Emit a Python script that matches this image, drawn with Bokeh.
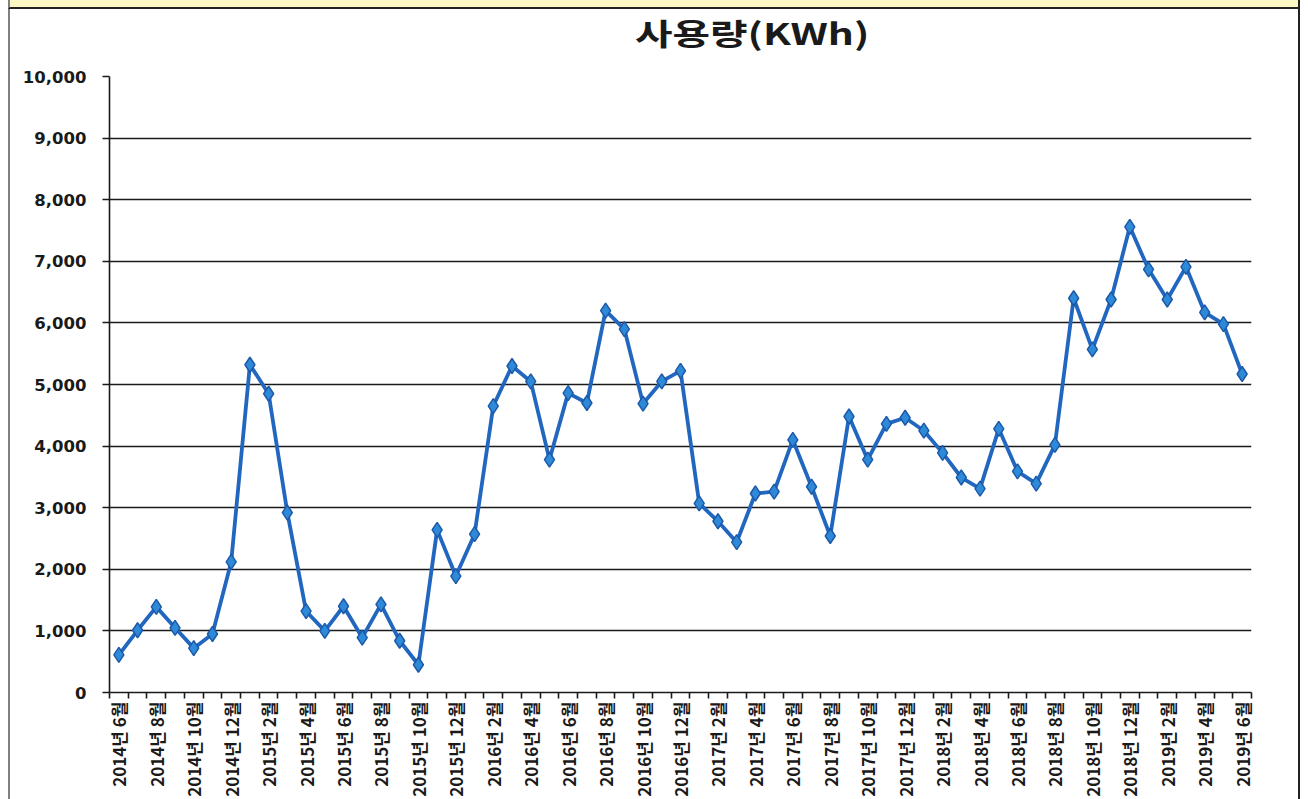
import math
from bokeh.plotting import figure
from bokeh.layouts import column
from bokeh.models import Range1d, FixedTicker, NumeralTickFormatter, ColumnDataSource, Div
from bokeh.embed import file_html
from bokeh.resources import INLINE

title_text = "사용량(KWh)"

tick_labels = [
    "2014년 6월", "2014년 8월", "2014년 10월", "2014년 12월",
    "2015년 2월", "2015년 4월", "2015년 6월", "2015년 8월", "2015년 10월", "2015년 12월",
    "2016년 2월", "2016년 4월", "2016년 6월", "2016년 8월", "2016년 10월", "2016년 12월",
    "2017년 2월", "2017년 4월", "2017년 6월", "2017년 8월", "2017년 10월", "2017년 12월",
    "2018년 2월", "2018년 4월", "2018년 6월", "2018년 8월", "2018년 10월", "2018년 12월",
    "2019년 2월", "2019년 4월", "2019년 6월",
]

# monthly usage (KWh), 2014-06 .. 2019-06
usage = [
    610, 1010, 1390, 1050, 720, 950, 2120,
    5320, 4850, 2920, 1320, 1000, 1400, 890, 1430, 840, 450, 2640, 1890,
    2570, 4650, 5300, 5050, 3780, 4860, 4700, 6200, 5900, 4690, 5050, 5220,
    3070, 2780, 2440, 3230, 3260, 4100, 3340, 2540, 4480, 3780, 4360, 4460,
    4250, 3890, 3490, 3310, 4280, 3590, 3390, 4020, 6400, 5570, 6380, 7560,
    6870, 6380, 6910, 6170, 5980, 5170,
]

month_idx = list(range(len(usage)))
src = ColumnDataSource(dict(x=month_idx, y=usage))

side_borders = {"margin-left": "8px", "border-left": "2px solid #808080",
                "border-right": "2px solid #222222", "box-sizing": "border-box"}

p = figure(width=1292, height=734,
           x_range=Range1d(-0.5, len(usage) - 0.5), y_range=Range1d(0, 10000),
           output_backend="svg", toolbar_location=None, margin=0,
           min_border_left=99, min_border_right=51, min_border_top=11, min_border_bottom=104)
p.outline_line_color = None
p.background_fill_color = "white"
p.border_fill_color = "white"
p.styles = dict(side_borders)

# grid
p.xgrid.grid_line_color = None
p.ygrid.grid_line_color = "#1a1a1a"
p.ygrid.grid_line_width = 1.6
p.ygrid.ticker = FixedTicker(ticks=list(range(0, 10001, 1000)))

# y axis
p.yaxis.ticker = FixedTicker(ticks=list(range(0, 10001, 1000)))
p.yaxis.formatter = NumeralTickFormatter(format="0,0")
p.yaxis.axis_line_color = "#1a1a1a"
p.yaxis.axis_line_width = 1.6
p.yaxis.major_tick_out = 7
p.yaxis.major_tick_in = 0
p.yaxis.major_tick_line_color = "#1a1a1a"
p.yaxis.major_tick_line_width = 1.6
p.yaxis.minor_tick_line_color = None
p.yaxis.major_label_text_font = "DejaVu Sans"
p.yaxis.major_label_text_font_style = "bold"
p.yaxis.major_label_text_font_size = "16.5px"
p.yaxis.major_label_text_color = "#1a1a1a"
p.yaxis.major_label_standoff = 16

# x axis
label_pos = month_idx[::2]
p.xaxis.ticker = FixedTicker(ticks=label_pos, minor_ticks=[i - 0.5 for i in range(len(usage) + 1)])
p.xaxis.major_label_overrides = {pos: lab for pos, lab in zip(label_pos, tick_labels)}
p.xaxis.major_label_orientation = math.pi / 2
p.xaxis.axis_line_color = "#1a1a1a"
p.xaxis.axis_line_width = 1.6
p.xaxis.major_tick_line_color = None
p.xaxis.major_tick_out = 0
p.xaxis.major_tick_in = 0
p.xaxis.minor_tick_line_color = "#1a1a1a"
p.xaxis.minor_tick_line_width = 1.6
p.xaxis.minor_tick_out = 6
p.xaxis.minor_tick_in = 0
p.xaxis.major_label_text_font = "Noto Sans CJK KR"
p.xaxis.major_label_text_font_style = "bold"
p.xaxis.major_label_text_font_size = "17px"
p.xaxis.major_label_text_color = "#1a1a1a"
p.xaxis.major_label_standoff = 3

# series
p.line("x", "y", source=src, line_color="#2166bf", line_width=3.8)
p.scatter("x", "y", source=src, marker="diamond", size=15,
          fill_color="#2e8ad8", line_color="#1c5aa8", line_width=1.5)

band = Div(width=1292, height=9, text="", margin=0,
           styles={"margin-left": "8px", "background": "#fbf8c4",
                   "border-bottom": "2px solid #222222", "border-left": "2px solid #808080",
                   "border-right": "2px solid #222222", "box-sizing": "border-box"})

title_html = (
    '<div style="width:1288px;height:56px;padding-left:196px;padding-top:0px;box-sizing:border-box;'
    'text-align:center;line-height:46px;">'
    '<span style="display:inline-block;transform:scaleX(1.36);transform-origin:center;'
    "font-family:'Noto Sans CJK KR';font-weight:bold;font-size:30px;color:#1a1a1a;\">"
    + title_text + "</span></div>"
)
title_div = Div(width=1292, height=56, text=title_html, margin=0,
                styles=dict(side_borders, background="white"))

layout = column(band, title_div, p, spacing=0)
open("out.html", "w").write(file_html(layout, INLINE))
